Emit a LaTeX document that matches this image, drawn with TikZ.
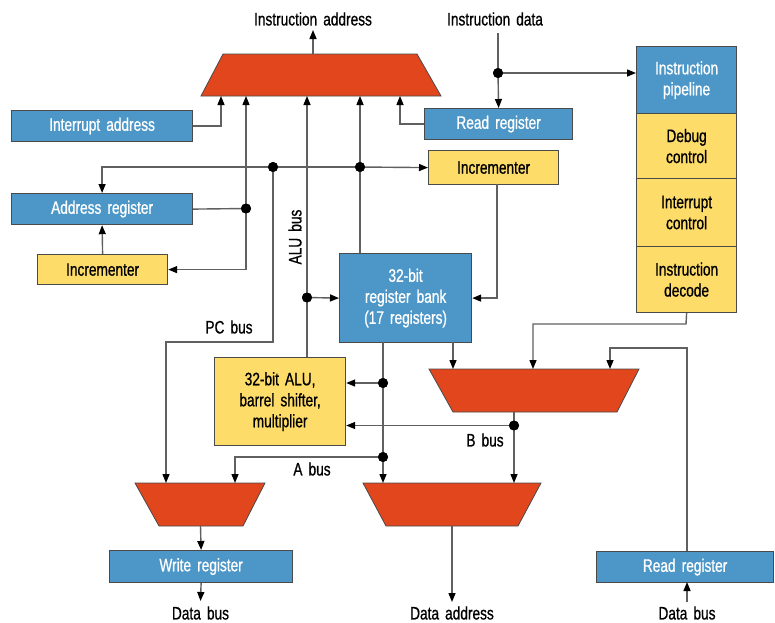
\documentclass[tikz,border=0pt]{standalone}
\usepackage{fontspec}
\setmainfont[FakeStretch=0.76,FakeBold=0.8,WordSpace=1.6]{Liberation Sans}
\usetikzlibrary{arrows.meta}
\definecolor{bblue}{HTML}{4D97C8}
\definecolor{mred}{HTML}{E1461D}
\definecolor{yel}{HTML}{FDDC6A}
\definecolor{edgec}{HTML}{4A4A4A}
\definecolor{wirec}{HTML}{606060}
\newcommand\dgfont{\fontsize{18}{21}\selectfont}
\begin{document}
\begin{tikzpicture}[x=1pt,y=-1pt,
  boxst/.style={draw=edgec, line width=1.2pt, inner sep=0pt, anchor=north west, font=\dgfont, align=center},
  bluebox/.style={boxst, fill=bblue, text=white},
  yelbox/.style={boxst, fill=yel, text=black},
  wire/.style={draw=wirec, line width=1.4pt},
  arr/.style={wire, -{Triangle[length=9pt,width=7pt,color=black]}},
  jdot/.style={circle, fill=black, inner sep=0pt, minimum size=10pt},
  muxst/.style={fill=mred, draw=edgec, line width=0.8pt},
  lbl/.style={font=\dgfont, text=black, inner sep=1pt}]
\useasboundingbox (0,0) rectangle (775,622);

% ---------- boxes ----------
\node[bluebox, minimum width=181pt, minimum height=31pt] (intaddr) at (11,110) {Interrupt address};
\node[bluebox, minimum width=181pt, minimum height=31pt] (addr) at (11,193) {Address register};
\node[yelbox, minimum width=130pt, minimum height=30pt] (incL) at (37,254) {Incrementer};
\node[bluebox, minimum width=148pt, minimum height=31pt] (rdT) at (424,108) {Read register};
\node[yelbox, minimum width=130pt, minimum height=34pt] (incR) at (428,150) {Incrementer};
\node[bluebox, minimum width=132pt, minimum height=89pt] (rb) at (339,253) {32-bit\\register bank\\(17 registers)};
\node[yelbox, minimum width=131pt, minimum height=88pt] (alu) at (214,357) {32-bit ALU,\\barrel shifter,\\multiplier};
\node[bluebox, minimum width=100pt, minimum height=67pt] (pipe) at (636,46) {Instruction\\pipeline};
\node[yelbox, minimum width=100pt, minimum height=65pt] (debug) at (636,113) {Debug\\control};
\node[yelbox, minimum width=100pt, minimum height=68pt] (intc) at (636,178) {Interrupt\\control};
\node[yelbox, minimum width=100pt, minimum height=66pt] (dec) at (636,246) {Instruction\\decode};
\node[bluebox, minimum width=183pt, minimum height=32pt] (wr) at (109,550) {Write register};
\node[bluebox, minimum width=177pt, minimum height=31pt] (rdB) at (596,551) {Read register};

% ---------- multiplexers ----------
\draw[muxst] (223,54) -- (417,54) -- (441,96) -- (201,96) -- cycle;
\draw[muxst] (429,369) -- (639,369) -- (617,412) -- (453,412) -- cycle;
\draw[muxst] (135,483) -- (265,483) -- (243,526) -- (159,526) -- cycle;
\draw[muxst] (363,483) -- (541,483) -- (518,526) -- (386,526) -- cycle;

% mux ports
\coordinate (mTout) at (313,54);
\coordinate (mTi1) at (221,96);
\coordinate (mTi2) at (246,96);
\coordinate (mTi3) at (307,96);
\coordinate (mTi4) at (360,96);
\coordinate (mTi5) at (400,96);
\coordinate (mBi1) at (453,369);
\coordinate (mBi2) at (533,369);
\coordinate (mBi3) at (610,369);
\coordinate (mBo) at (514,412);
\coordinate (mWi1) at (166,483);
\coordinate (mWi2) at (235,483);
\coordinate (mWo) at (200.5,526);
\coordinate (mDi1) at (383,483);
\coordinate (mDi2) at (514,483);
\coordinate (mDo) at (452,526);

% ---------- labels ----------
\node[lbl] (tIA) at (313,19) {Instruction address};
\node[lbl] (tID) at (495,19) {Instruction data};
\node[lbl] (tDB1) at (200.5,613) {Data bus};
\node[lbl] (tDA) at (452,613) {Data address};
\node[lbl] (tDB2) at (687,613) {Data bus};
\node[lbl] (tPC) at (229,327) {PC bus};
\node[lbl] (tA) at (312,469) {A bus};
\node[lbl] (tB) at (485,440) {B bus};
\node[lbl, rotate=90] (tALU) at (295,237) {ALU bus};

\coordinate (tIAe) at (313,30);
\coordinate (tIDs) at (498,33);
\coordinate (tDB1e) at (200.5,601);
\coordinate (tDAe) at (452,602);
\coordinate (tDB2s) at (687,602);

% ---------- junctions ----------
\node[jdot] (jA) at (246,208.5) {};
\node[jdot] (jP) at (273,167) {};
\node[jdot] (jQ) at (360,167) {};
\node[jdot] (jB) at (307,297.5) {};
\node[jdot] (jC) at (383,383) {};
\node[jdot] (jD) at (383,457) {};
\node[jdot] (jE) at (514,425.5) {};
\node[jdot] (jF) at (498,73) {};

% other connector points
\coordinate (rbT) at (360,253);
\coordinate (aluT) at (307,357);
\coordinate (rbo1) at (383,342);
\coordinate (rbo2) at (453,342);
\coordinate (incRo) at (497,184);
\coordinate (pcb) at (273,342);
\coordinate (decb) at (686,324);
\coordinate (rdBt) at (687,551);
\coordinate (rdBb) at (687,582);
\coordinate (rdBk) at (687,348);
\coordinate (pipeIn) at (636,73);

% ---------- connectors ----------
\draw[arr] (mTout) -- (tIAe);
\draw[arr] (intaddr.east) -| (mTi1);
\draw[arr] (rdT.west) -| (mTi5);
\draw[wire] (addr.east) -- (jA.center);
\draw[arr] (jA.center) -- (mTi2);
\draw[arr] (jA.center) |- (incL.east);
\draw[arr] (incL.north) -- (addr.south);
\draw[arr] (jQ.center) -| (addr.north);
\draw[arr] (jQ.center) -- (incR.west);
\draw[arr] (rbT) -- (mTi4);
\draw[arr] (jP.center) -- (pcb) -| (mWi1);
\draw[arr] (incRo) |- (rb.east);
\draw[arr] (aluT) -- (mTi3);
\draw[arr] (jB.center) -- (rb.west);
\draw[arr] (rbo1) -- (mDi1);
\draw[arr] (jC.center) -- (jC.center -| alu.east);
\draw[arr] (jD.center) -| (mWi2);
\draw[arr] (rbo2) -- (mBi1);
\draw[arr] (mBo) -- (mDi2);
\draw[arr] (jE.center) -- (jE.center -| alu.east);
\draw[arr] (dec.south) -- (decb) -| (mBi2);
\draw[arr] (rdBt) -- (rdBk) -| (mBi3);
\draw[arr] (mWo) -- (wr.north);
\draw[arr] (wr.south) -- (tDB1e);
\draw[arr] (mDo) -- (tDAe);
\draw[arr] (tDB2s) -- (rdBb);
\draw[wire] (tIDs) -- (jF.center);
\draw[arr] (jF.center) -- (rdT.north);
\draw[arr] (jF.center) -- (pipeIn);
% redraw dots on top of wires
\foreach \j in {jA,jP,jQ,jB,jC,jD,jE,jF} \fill[black] (\j.center) circle (5pt);
\end{tikzpicture}
\end{document}
